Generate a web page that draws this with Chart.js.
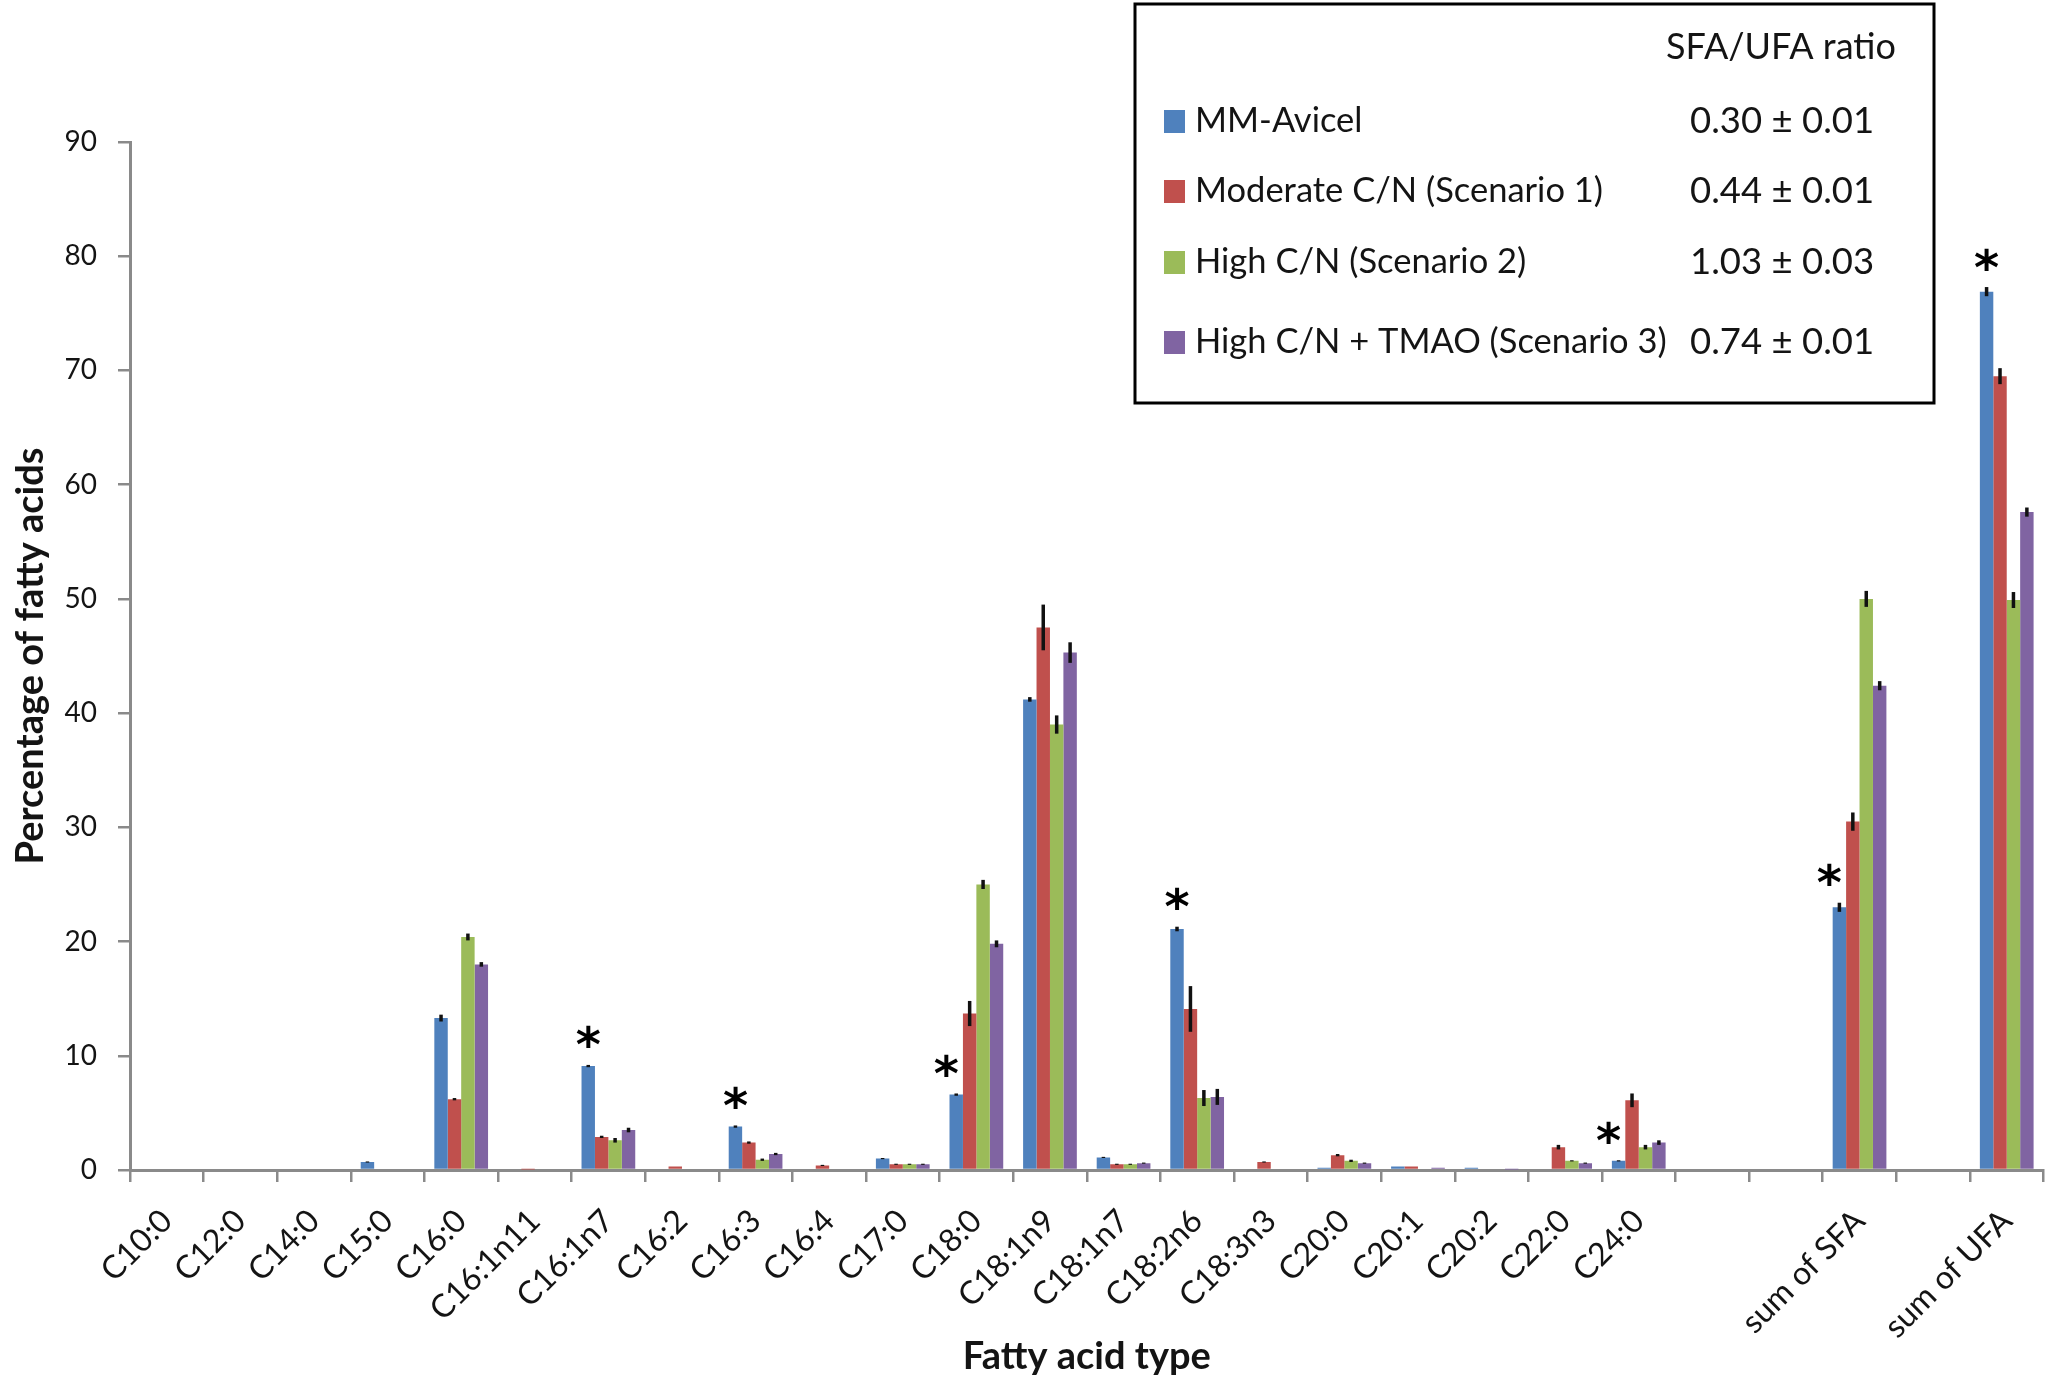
<!DOCTYPE html>
<html><head><meta charset="utf-8">
<script src="https://cdn.jsdelivr.net/npm/chart.js@4.4.1/dist/chart.umd.min.js"></script>
<style>html,body{margin:0;padding:0;background:#fff;}#wrap{width:2054px;height:1387px;}</style>
</head><body><div id="wrap"><canvas id="c" width="2054" height="1387"></canvas></div>
<script>
const categories = ['C10:0','C12:0','C14:0','C15:0','C16:0','C16:1n11','C16:1n7','C16:2','C16:3','C16:4','C17:0','C18:0','C18:1n9','C18:1n7','C18:2n6','C18:3n3','C20:0','C20:1','C20:2','C22:0','C24:0','','','sum of SFA','','sum of UFA'];
const seriesNames = ['MM-Avicel','Moderate C/N (Scenario 1)','High C/N (Scenario 2)','High C/N + TMAO (Scenario 3)'];
const ratioLabels = ['0.30 \u00b1 0.01','0.44 \u00b1 0.01','1.03 \u00b1 0.03','0.74 \u00b1 0.01'];
const ratioTitle = 'SFA/UFA ratio';

const avicel   = [0,0,0.1,0.7,13.3,0.1,9.1,0,3.8,0,1.0,6.6,41.2,1.1,21.1,0,0.2,0.3,0.2,0,0.8,null,null,23.0,null,76.9];
const moderate = [0,0,0,0.1,6.2,0.05,2.9,0.3,2.4,0.4,0.5,13.7,47.5,0.5,14.1,0.7,1.3,0.3,0.1,2.0,6.1,null,null,30.5,null,69.5];
const highCN   = [0,0,0,0.1,20.4,0,2.6,0,0.9,0,0.5,25.0,39.0,0.5,6.3,0,0.8,0.1,0,0.8,2.0,null,null,50.0,null,49.9];
const highTMAO = [0,0,0,0.1,18.0,0,3.5,0,1.4,0,0.5,19.8,45.3,0.6,6.4,0,0.6,0.2,0.05,0.6,2.4,null,null,42.4,null,57.6];

const errAvicel   = [0,0,0,0.05,0.3,0,0.1,0,0.1,0,0.05,0.1,0.2,0.05,0.2,0,0,0,0,0,0.05,null,null,0.4,null,0.4];
const errModerate = [0,0,0,0,0.1,0,0.1,0,0.1,0.05,0.05,1.1,2.0,0.05,2.0,0.05,0.1,0,0,0.2,0.6,null,null,0.8,null,0.7];
const errHighCN   = [0,0,0,0,0.3,0,0.2,0,0.1,0,0.05,0.4,0.8,0.05,0.7,0,0.1,0,0,0.05,0.2,null,null,0.7,null,0.7];
const errHighTMAO = [0,0,0,0,0.2,0,0.2,0,0.1,0,0.05,0.3,0.9,0.05,0.7,0,0.05,0,0,0.05,0.2,null,null,0.4,null,0.4];

const significant = ['C16:1n7','C16:3','C18:0','C18:2n6','C24:0','sum of SFA','sum of UFA'];

const colors = ['#4F81BD','#C0504D','#9BBB59','#8064A2'];
const seriesValues = [avicel, moderate, highCN, highTMAO];
const seriesErrors = [errAvicel, errModerate, errHighCN, errHighTMAO];

const FONT = 'Lato';
const TXT = '#141414';

const errorBarPlugin = {
  id: 'errorBars',
  afterDatasetsDraw(chart) {
    const ctx = chart.ctx, ys = chart.scales.y;
    ctx.save();
    ctx.strokeStyle = '#111';
    ctx.lineWidth = 3.5;
    chart.data.datasets.forEach((ds, di) => {
      const meta = chart.getDatasetMeta(di);
      meta.data.forEach((bar, i) => {
        const v = ds.data[i], e = ds.errors[i];
        if (v == null || !e) return;
        const yt = ys.getPixelForValue(v + e), yb = ys.getPixelForValue(Math.max(0, v - e));
        ctx.beginPath(); ctx.moveTo(bar.x, yt); ctx.lineTo(bar.x, yb); ctx.stroke();
      });
    });
    ctx.restore();
  }
};

const asteriskPlugin = {
  id: 'asterisks',
  afterDatasetsDraw(chart) {
    const ctx = chart.ctx, ys = chart.scales.y;
    const meta0 = chart.getDatasetMeta(0);
    ctx.save();
    ctx.fillStyle = '#000';
    ctx.font = 'bold 48px "DejaVu Sans"';
    ctx.textAlign = 'center';
    ctx.textBaseline = 'alphabetic';
    const m = ctx.measureText('*');
    const mid = (m.actualBoundingBoxAscent - m.actualBoundingBoxDescent) / 2;
    significant.forEach(lbl => {
      const i = categories.indexOf(lbl);
      const v = avicel[i] + (errAvicel[i] || 0);
      const bar = meta0.data[i];
      let x = bar.x;
      if (moderate[i] > avicel[i] + 2) x -= 10;
      const cy = ys.getPixelForValue(v) - 28;
      ctx.fillText('*', x, cy + mid);
    });
    ctx.restore();
  }
};

const legendBoxPlugin = {
  id: 'legendBox',
  afterDraw(chart) {
    const ctx = chart.ctx;
    ctx.save();
    const bx = 1135, by = 4, bw = 799, bh = 399;
    ctx.fillStyle = '#fff';
    ctx.fillRect(bx, by, bw, bh);
    ctx.strokeStyle = '#000';
    ctx.lineWidth = 3;
    ctx.strokeRect(bx, by, bw, bh);
    ctx.fillStyle = TXT;
    ctx.textBaseline = 'middle';
    ctx.font = '36px ' + FONT;
    ctx.textAlign = 'center';
    ctx.fillText(ratioTitle, 1781, 47);
    const rowY = [121, 191, 262, 342];
    seriesNames.forEach((name, k) => {
      ctx.fillStyle = colors[k];
      ctx.fillRect(1164, rowY[k] - 11, 21, 23);
      ctx.fillStyle = TXT;
      ctx.textAlign = 'left';
      ctx.font = '34.5px ' + FONT;
      ctx.fillText(name, 1195, rowY[k]);
      ctx.font = '36.5px ' + FONT;
      ctx.fillText(ratioLabels[k], 1690, rowY[k]);
    });
    ctx.restore();
  }
};

new Chart(document.getElementById('c'), {
  type: 'bar',
  data: {
    labels: categories,
    datasets: seriesNames.map((n, k) => ({
      label: n,
      data: seriesValues[k],
      errors: seriesErrors[k],
      backgroundColor: colors[k],
      borderWidth: 0,
      categoryPercentage: 0.73,
      barPercentage: 1.0
    }))
  },
  options: {
    responsive: false,
    devicePixelRatio: 1,
    animation: false,
    layout: { padding: { left: 8, right: 6, top: 142, bottom: 0 } },
    plugins: { legend: { display: false }, tooltip: { enabled: false } },
    scales: {
      x: {
        grid: { display: true, drawOnChartArea: false, drawTicks: true, tickLength: 12, color: '#8a8a8a', lineWidth: 2.5, offset: true },
        border: { display: true, color: '#8a8a8a', width: 3 },
        ticks: { autoSkip: false, maxRotation: 45, minRotation: 45, padding: 20, color: TXT, font: { family: FONT, size: 32 } },
        title: { display: true, text: 'Fatty acid type', color: TXT, font: { family: FONT, size: 38, weight: 'bold' }, padding: { top: 0, bottom: 7 } },
        afterFit(s) { s.height = 217; }
      },
      y: {
        min: 0, max: 90,
        ticks: { stepSize: 10, padding: 21, color: TXT, font: { family: FONT, size: 28 } },
        grid: { display: true, drawOnChartArea: false, drawTicks: true, tickLength: 12, color: '#8a8a8a', lineWidth: 2.5 },
        border: { display: true, color: '#8a8a8a', width: 3 },
        title: { display: true, text: 'Percentage of fatty acids', color: TXT, font: { family: FONT, size: 38, weight: 'bold' }, padding: { top: 0, bottom: 0 } },
        afterFit(s) { s.width = 122; }
      }
    }
  },
  plugins: [errorBarPlugin, asteriskPlugin, legendBoxPlugin]
});
</script>
</body></html>
